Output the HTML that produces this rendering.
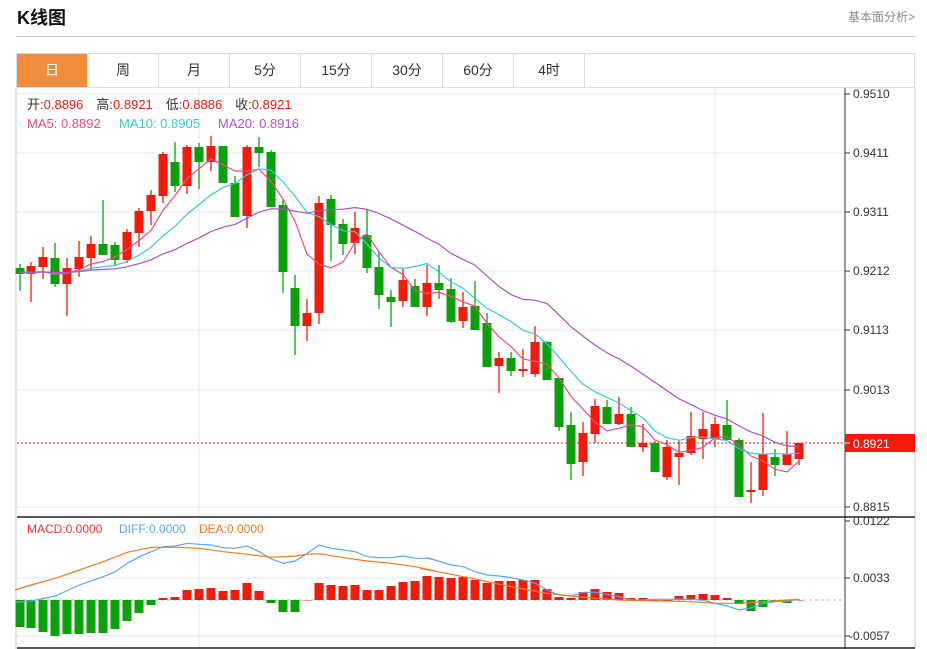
<!DOCTYPE html><html><head><meta charset="utf-8"><style>
body{margin:0;width:927px;height:649px;background:#fff;font-family:"Liberation Sans","Noto Sans CJK SC",sans-serif;overflow:hidden;position:relative}
.t{position:absolute;left:17px;top:4px;font-size:18px;font-weight:bold;color:#111}
.r{position:absolute;left:848px;top:8px;font-size:12px;color:#888}
.sep{position:absolute;left:16px;top:36px;width:900px;height:1px;background:#ccc}
.tabs{position:absolute;left:16px;top:53px;width:899px;height:35px;border:1px solid #ddd;box-sizing:border-box;display:flex}
.tabs div{width:70px;border-right:1px solid #ddd;text-align:center;line-height:33px;font-size:14px;color:#333}
.tabs .a{background:#f28c3c;color:#fff}
svg{position:absolute;left:0;top:0}
</style></head><body>
<div class="t">K线图</div><div class="r">基本面分析&gt;</div><div class="sep"></div>
<div class="tabs"><div class="a">日</div><div>周</div><div>月</div><div>5分</div><div>15分</div><div>30分</div><div>60分</div><div>4时</div></div>
<svg id="s" width="927" height="649" xmlns="http://www.w3.org/2000/svg"></svg>
<script>
var C=[[20,268,274,264,291],[31,266,274,262,302],[43,257,267,247,279],[55,258,284,243,287],[67,284,268,258,316],[79,269,257,241,277],[91,258,244,236,270],[103,244,255,200,255],[115,245,260,242,266],[127,260,232,229,263],[139,233,211,208,247],[151,211,195,190,225],[163,196,154,152,203],[175,162,186,142,192],[187,186,147,145,194],[199,147,162,143,189],[211,162,146,136,171],[223,146,183,146,183],[235,183,217,176,217],[247,216,147,145,228],[259,147,153,137,167],[271,152,207,150,207],[283,205,272,199,293],[295,288,326,275,355],[307,326,313,299,341],[319,313,203,196,324],[331,199,225,195,261],[343,224,244,219,255],[355,243,228,212,254],[367,235,268,209,273],[379,267,295,252,309],[391,297,302,290,327],[403,301,280,268,307],[415,286,307,279,307],[427,307,283,265,316],[439,283,290,265,299],[451,289,322,278,323],[463,321,307,292,328],[475,306,330,281,330],[487,323,367,313,367],[499,366,358,352,393],[511,358,371,352,376],[523,371,369,349,377],[535,374,342,326,377],[547,342,380,341,380],[559,378,427,378,431],[571,425,464,412,480],[583,462,433,422,476],[595,434,406,399,443],[607,407,424,400,424],[619,424,414,397,425],[631,414,447,407,447],[643,447,443,424,452],[655,443,472,441,472],[667,477,447,440,480],[679,457,453,441,485],[691,453,436,412,455],[703,439,429,412,459],[715,439,424,417,447],[727,425,440,400,440],[739,440,497,438,497],[751,492,490,462,503],[763,490,454,413,496],[775,457,465,449,476],[787,465,454,431,465],[799,459,443,443,465]];
var GR=[1,4,8,9,14,16,18,19,21,22,23,24,27,28,30,31,32,34,36,37,39,40,42,45,46,47,50,52,54,60,61,64];
var M=[627,628,632,636,634,634,633,633,629,621,613,605,598,597,590,589,588,591,590,583,591,603,612,612,600,583,585,586,585,590,590,586,582,581,576,577,578,577,580,583,581,581,580,580,589,597,598,592,589,592,593,598,598,600,600,596,595,594,595,598,604,611,607,602,603,600];
var h='';function L(a,b,c,d,s,w,x){h+='<line x1="'+a+'" y1="'+b+'" x2="'+c+'" y2="'+d+'" stroke="'+s+'" stroke-width="'+(w||1)+'"'+(x||'')+'/>';}
function T(x,y,t,c,s,a){h+='<text x="'+x+'" y="'+y+'" fill="'+c+'" font-size="'+(s||12)+'"'+(a||'')+'>'+t+'</text>';}
var G='#e3eaf1';
[94,153,212,271,330,390,507].forEach(function(y){L(17,y,845,y,G);});
[578,636].forEach(function(y){L(17,y,845,y,G);});
L(199,88,199,648,G);L(715,88,715,648,G);
L(16,88,16,649,'#ccc');L(915,88,915,649,'#ccc');
L(845,88,845,649,'#333');L(17,517,915,517,'#222',1.5);L(17,648,915,648,'#222',1.5);
var pl=['0.9510','0.9411','0.9311','0.9212','0.9113','0.9013','0.8815'];
[94,153,212,271,330,390,507].forEach(function(y,i){L(845,y,850,y,'#333');T(853,y+4,pl[i],'#333');});
[[521,'0.0122'],[578,'0.0033'],[636,'-0.0057']].forEach(function(a){L(845,a[0],850,a[0],'#333');T(a[1][0]=='-'?849:853,a[0]+4,a[1],'#333');});
var cl=C.map(function(c){return c[2]});var pad=[];for(var i=0;i<19;i++)pad.push(272);var all=pad.concat(cl);
function ma(n,col){var p=[];for(var i=0;i<C.length;i++){var s=0;for(var k=0;k<n;k++)s+=all[i+19-k];p.push(C[i][0]+','+(s/n).toFixed(1));}h+='<polyline points="'+p.join(' ')+'" fill="none" stroke="'+col+'" stroke-width="1.2"/>';}
C.forEach(function(c,i){var col=GR.indexOf(i+1)>=0?'#0aa00a':'#f21b0a';
L(c[0],c[3],c[0],c[4],col,1.3);var t=Math.min(c[1],c[2]),b=Math.max(c[1],c[2]);h+='<rect x="'+(c[0]-4.5)+'" y="'+t+'" width="9" height="'+Math.max(b-t,2)+'" fill="'+col+'"/>';});
ma(5,'#ee4d7c');ma(10,'#3cc8dc');ma(20,'#b052c4');
L(17,443,845,443,'#e21',1,' stroke-dasharray="2,2"');
h+='<rect x="845" y="434" width="70" height="18" fill="#f21b0a"/>';L(845,443,850,443,'#fff');T(853,448,'0.8921','#fff');
L(17,600,845,600,'#8cc8e8',1,' stroke-dasharray="3,3"');
M.forEach(function(y,i){var x=C[i][0];var col=y>600?'#0aa00a':'#f21b0a';var t=Math.min(y,600),b=Math.max(y,600);h+='<rect x="'+(x-4.5)+'" y="'+t+'" width="9" height="'+Math.max(b-t,0.5)+'" fill="'+col+'"/>';});
function pp(a,ox){return a.map(function(p){return (ox+p[0]/3).toFixed(1)+','+(515+p[1]/3).toFixed(1)}).join(' ');}
var D1=[[0,262],[48,258],[121,243],[193,210],[265,185],[301,170],[337,145],[373,125],[409,110],[445,95],[481,93],[517,85],[553,88],[589,90],[625,98],[661,100],[697,93],[733,110],[769,132],[805,145],[841,138],[877,115],[913,90],[949,100],[985,105],[1021,110],[1057,125],[1093,128],[1129,128],[1165,123],[1201,130],[1237,130],[1260,135]];
var D2=[[22,128],[94,150],[130,155],[166,170],[202,180],[238,183],[274,188],[310,195],[346,205],[382,225],[418,240],[454,243],[490,232],[526,232],[562,238],[598,245],[634,255],[670,255],[706,253],[742,253],[778,252],[814,253],[850,256],[886,265],[922,273],[958,285],[994,278],[1030,265],[1066,260],[1102,258],[1138,253]];
var E1=[[0,225],[48,210],[121,190],[193,165],[265,140],[337,112],[409,97],[481,97],[553,100],[625,110],[697,118],[769,127],[841,123],[877,118],[913,116],[985,128],[1057,138],[1129,145],[1201,155],[1260,168]];
var E2=[[0,160],[94,178],[166,192],[238,208],[310,222],[382,235],[454,243],[526,250],[598,255],[670,257],[742,258],[814,260],[886,265],[958,265],[1030,260],[1102,255],[1138,253]];
h+='<polyline points="'+pp(D1,15)+' '+pp(D2,420)+'" fill="none" stroke="#5aa9f0" stroke-width="1.2"/>';
h+='<polyline points="'+pp(E1,15)+' '+pp(E2,420)+'" fill="none" stroke="#f57a1e" stroke-width="1.2"/>';
T(27,109,'开:<tspan fill="#f21b0a">0.8896</tspan>　高:<tspan fill="#f21b0a">0.8921</tspan>　低:<tspan fill="#f21b0a">0.8886</tspan>　收:<tspan fill="#f21b0a">0.8921</tspan>','#333',13);
T(27,128,'MA5: 0.8892','#ee4d7c',13);T(119,128,'MA10: 0.8905','#3cc8dc',13);T(218,128,'MA20: 0.8916','#b052c4',13);
T(27,533,'MACD:0.0000','#f33',12);T(119,533,'DIFF:0.0000','#5aa9f0',12);T(199,533,'DEA:0.0000','#f57a1e',12);
document.getElementById('s').innerHTML=h;
</script></body></html>
